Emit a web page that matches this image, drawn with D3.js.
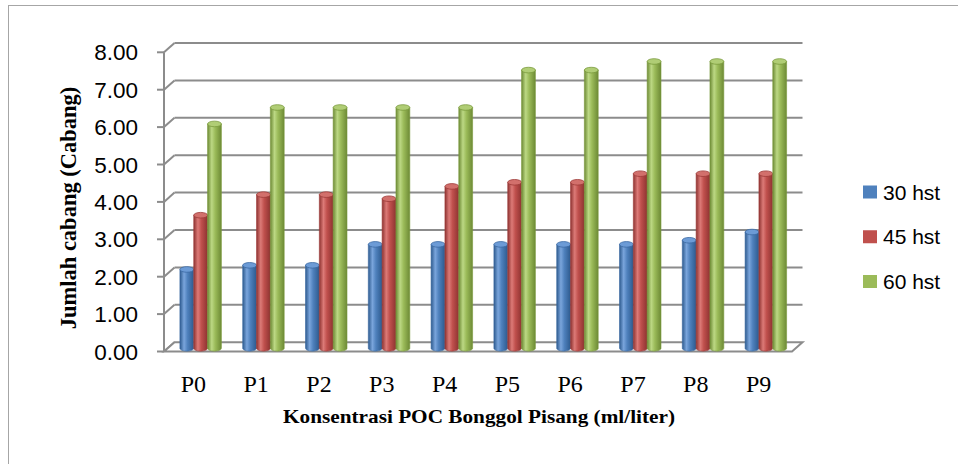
<!DOCTYPE html>
<html>
<head>
<meta charset="utf-8">
<script src="https://cdn.jsdelivr.net/npm/d3@7"></script>
<style>
  html, body { margin: 0; padding: 0; background: #fff; }
  svg { display: block; }
</style>
</head>
<body>
<svg id="chart" width="958" height="464"></svg>
<script>
// Branch counts per treatment at three observation times
const categories = ["P0", "P1", "P2", "P3", "P4", "P5", "P6", "P7", "P8", "P9"];
const seriesNames = ["30 hst", "45 hst", "60 hst"];
const hst30 = [2.11, 2.22, 2.22, 2.78, 2.78, 2.78, 2.78, 2.78, 2.89, 3.11];
const hst45 = [3.56, 4.11, 4.11, 4.00, 4.33, 4.44, 4.44, 4.67, 4.67, 4.67];
const hst60 = [6.00, 6.44, 6.44, 6.44, 6.44, 7.44, 7.44, 7.67, 7.67, 7.67];
const yTicks = [0, 1, 2, 3, 4, 5, 6, 7, 8];
const yTickLabels = ["0.00", "1.00", "2.00", "3.00", "4.00", "5.00", "6.00", "7.00", "8.00"];

const seriesValues = [hst30, hst45, hst60];
const palette = [
  { base: "#4F81BD", dark: "#2d5a8e", light: "#7aa5dc", top: "#6c9bd6", edge: "#3b6aa3" },
  { base: "#C0504D", dark: "#8e3331", light: "#dc7a77", top: "#d2706c", edge: "#9e3b39" },
  { base: "#9BBB59", dark: "#6d8a35", light: "#bcd884", top: "#b0cd75", edge: "#7a9a3c" }
];

const svg = d3.select("#chart");
const defs = svg.append("defs");

// Outer chart frame
svg.append("rect")
  .attr("x", 8.5).attr("y", 5.5)
  .attr("width", 980).attr("height", 480)
  .attr("fill", "none").attr("stroke", "#a6a6a6").attr("stroke-width", 1);

// 3D projection: front plane scales plus a depth offset for the back wall
const depth = { x: 10.5, y: -9.3 };
const yFront = d3.scaleLinear().domain([0, 8]).range([351.5, 52.3]);
const xFront = d3.scaleBand().domain(categories).range([164, 792]);
const groupWidth = 41.5;
const xSeries = d3.scaleBand().domain(seriesNames).range([0, groupWidth]);

const gridColor = "#8c8c8c";
const grid = svg.append("g");

// Back wall gridlines and left wall diagonals
yTicks.forEach(t => {
  const yf = yFront(t);
  const yb = yf + depth.y;
  if (t > 0) {
    grid.append("line")
      .attr("x1", 164 + depth.x).attr("x2", 792 + depth.x)
      .attr("y1", yb).attr("y2", yb)
      .attr("stroke", gridColor).attr("stroke-width", 2);
  }
  grid.append("line")
    .attr("x1", 164).attr("y1", yf)
    .attr("x2", 164 + depth.x).attr("y2", yb)
    .attr("stroke", gridColor).attr("stroke-width", 2);
  // axis tick marks
  grid.append("line")
    .attr("x1", 157).attr("x2", 164)
    .attr("y1", yf).attr("y2", yf)
    .attr("stroke", gridColor).attr("stroke-width", 2);
});

// Floor outline
const y0 = yFront(0);
grid.append("path")
  .attr("d", `M164,${y0} L792,${y0} L${792 + depth.x},${y0 + depth.y} L${164 + depth.x},${y0 + depth.y} Z`)
  .attr("fill", "#fff").attr("stroke", gridColor).attr("stroke-width", 2);

// Vertical value axis
grid.append("line")
  .attr("x1", 164).attr("x2", 164)
  .attr("y1", yFront(8)).attr("y2", yFront(0))
  .attr("stroke", gridColor).attr("stroke-width", 2);

// Value axis labels
svg.append("g").selectAll("text")
  .data(yTicks)
  .join("text")
  .attr("x", 138)
  .attr("y", d => yFront(d) + 8)
  .attr("text-anchor", "end")
  .attr("font-family", "Liberation Sans, Arial, sans-serif")
  .attr("font-size", 22.5)
  .attr("fill", "#000")
  .text((d, i) => yTickLabels[i]);

// Cylinder gradients
palette.forEach((p, i) => {
  const g = defs.append("linearGradient").attr("id", "cyl" + i)
    .attr("x1", "0%").attr("x2", "100%").attr("y1", "0%").attr("y2", "0%");
  g.append("stop").attr("offset", "0%").attr("stop-color", p.dark);
  g.append("stop").attr("offset", "30%").attr("stop-color", p.light);
  g.append("stop").attr("offset", "55%").attr("stop-color", p.base);
  g.append("stop").attr("offset", "100%").attr("stop-color", p.dark);
});

// Cylindrical bars sitting at mid depth
const bars = svg.append("g");
const ry = 2.8;
const barShift = depth.y / 2 + 1.5;
categories.forEach((cat, ci) => {
  seriesNames.forEach((s, si) => {
    const v = seriesValues[si][ci];
    const p = palette[si];
    const w = xSeries.bandwidth();
    const x = xFront(cat) + (xFront.bandwidth() - groupWidth) / 2 + xSeries(s) + depth.x / 2;
    const yTop = yFront(v) + barShift;
    const yBot = yFront(0) + barShift;
    const rx = w / 2;
    bars.append("path")
      .attr("d", `M${x},${yTop} L${x},${yBot} A${rx},${ry} 0 0 0 ${x + w},${yBot} L${x + w},${yTop} Z`)
      .attr("fill", `url(#cyl${si})`)
      .attr("stroke", p.edge).attr("stroke-width", 0.6);
    bars.append("ellipse")
      .attr("cx", x + rx).attr("cy", yTop)
      .attr("rx", rx).attr("ry", ry)
      .attr("fill", p.top)
      .attr("stroke", p.edge).attr("stroke-width", 0.8);
  });
});

// Category labels on the front edge
svg.append("g").selectAll("text")
  .data(categories)
  .join("text")
  .attr("x", d => xFront(d) + xFront.bandwidth() / 2 - 2)
  .attr("y", 392)
  .attr("text-anchor", "middle")
  .attr("font-family", "Liberation Serif, 'Times New Roman', serif")
  .attr("font-size", 24)
  .attr("fill", "#000")
  .text(d => d);

// Axis titles
svg.append("text")
  .attr("x", 479).attr("y", 423)
  .attr("text-anchor", "middle")
  .attr("font-family", "Liberation Serif, 'Times New Roman', serif")
  .attr("font-weight", "bold")
  .attr("font-size", 19.5)
  .attr("textLength", 392)
  .attr("lengthAdjust", "spacingAndGlyphs")
  .attr("fill", "#000")
  .text("Konsentrasi POC Bonggol Pisang (ml/liter)");

svg.append("text")
  .attr("transform", "translate(76,208) rotate(-90)")
  .attr("text-anchor", "middle")
  .attr("font-family", "Liberation Serif, 'Times New Roman', serif")
  .attr("font-weight", "bold")
  .attr("font-size", 22.5)
  .attr("fill", "#000")
  .text("Jumlah cabang (Cabang)");

// Legend
const legend = svg.append("g");
const legendY = d3.scalePoint().domain(seriesNames).range([192, 281.5]);
seriesNames.forEach((s, i) => {
  legend.append("rect")
    .attr("x", 863).attr("y", legendY(s) - 6.5)
    .attr("width", 14).attr("height", 13)
    .attr("fill", palette[i].base);
  legend.append("text")
    .attr("x", 883).attr("y", legendY(s) + 7.5)
    .attr("font-family", "Liberation Sans, Arial, sans-serif")
    .attr("font-size", 21)
    .attr("fill", "#000")
    .text(s);
});
</script>
</body>
</html>
